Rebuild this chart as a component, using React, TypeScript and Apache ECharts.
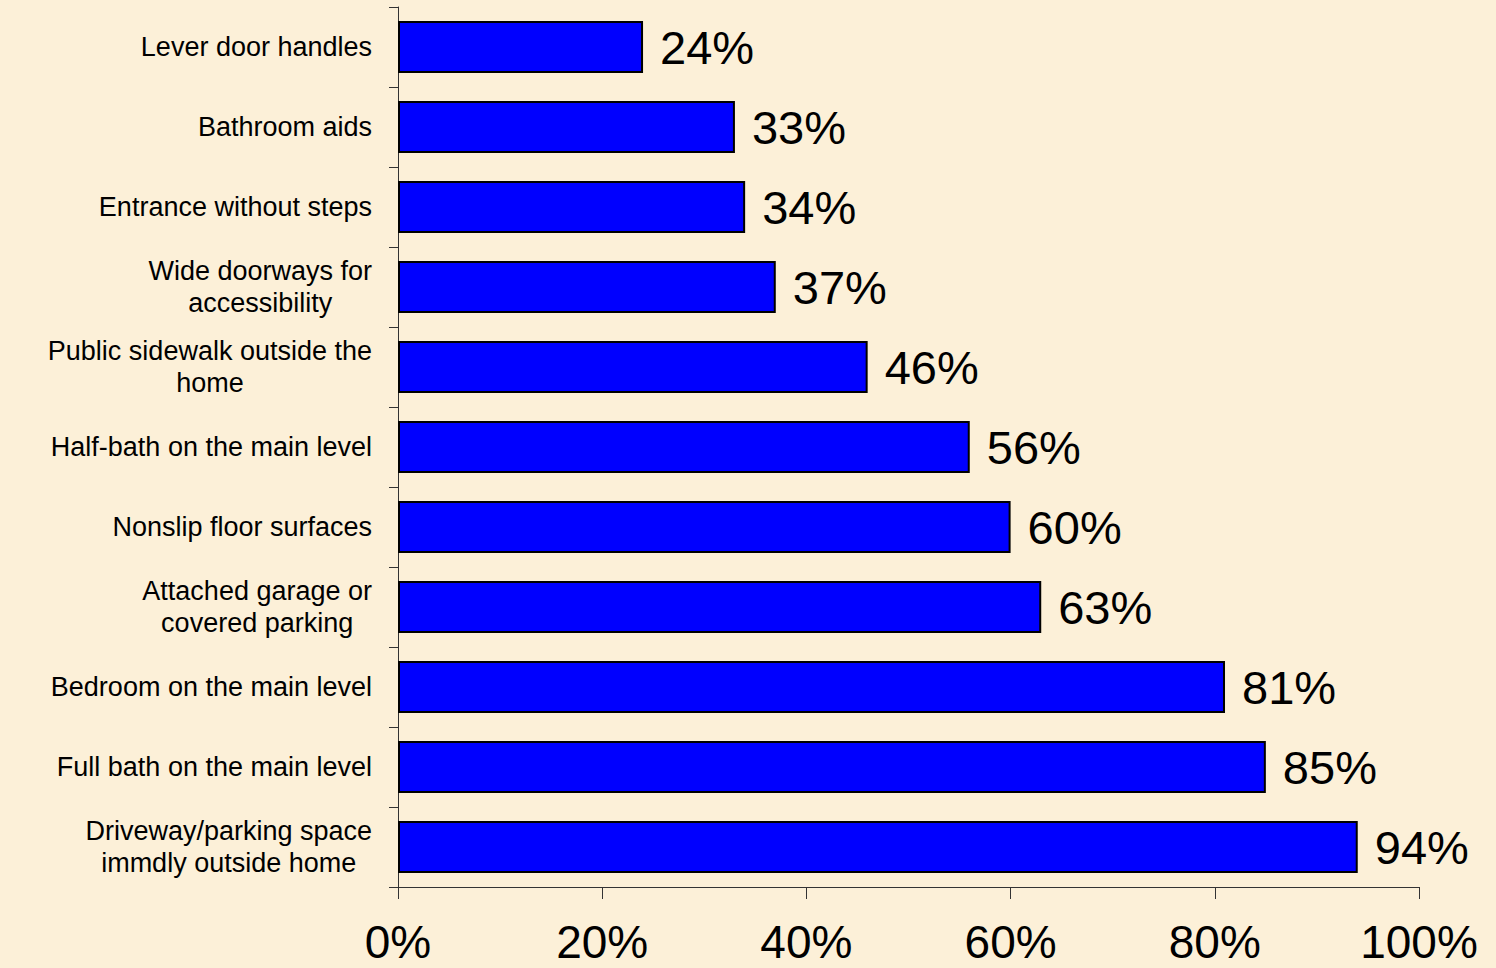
import React, { useEffect, useRef } from "react";
import * as echarts from "echarts";

// Home features, listed top to bottom
const categories = [
  "Lever door handles",
  "Bathroom aids",
  "Entrance without steps",
  "Wide doorways for\naccessibility",
  "Public sidewalk outside the\nhome",
  "Half-bath on the main level",
  "Nonslip floor surfaces",
  "Attached garage or\ncovered parking",
  "Bedroom on the main level",
  "Full bath on the main level",
  "Driveway/parking space\nimmdly outside home",
];

// Share of respondents, percent
const values = [24, 33, 34, 37, 46, 56, 60, 63, 81, 85, 94];

// Horizontal axis range
const axisMin = 0;
const axisMax = 100;
const axisStep = 20;

const FONT = "'Liberation Sans', Arial, sans-serif";

export default function App() {
  const ref = useRef<HTMLDivElement>(null);

  useEffect(() => {
    if (!ref.current) return;
    const chart = echarts.init(ref.current, null, { renderer: "svg" });
    chart.setOption({
      animation: false,
      backgroundColor: "#FCF0D8",
      grid: {
        left: 398,
        right: 77,
        top: 7,
        bottom: 81,
        containLabel: false,
        outerBoundsMode: "none",
      },
      xAxis: {
        type: "value",
        min: axisMin,
        max: axisMax,
        interval: axisStep,
        axisLine: { show: true, lineStyle: { color: "#333", width: 1 } },
        axisTick: { show: true, length: 12, lineStyle: { color: "#333", width: 1 } },
        splitLine: { show: false },
        axisLabel: {
          formatter: "{value}%",
          fontSize: 46,
          lineHeight: 36,
          fontFamily: FONT,
          color: "#000",
          margin: 37,
        },
      },
      yAxis: {
        type: "category",
        inverse: true,
        data: categories,
        axisLine: { show: true, lineStyle: { color: "#333", width: 1 } },
        axisTick: { show: true, length: 9, lineStyle: { color: "#333", width: 1 } },
        axisLabel: {
          align: "right",
          margin: 26,
          fontSize: 27,
          lineHeight: 32,
          fontFamily: FONT,
          color: "#000",
          formatter: (v: string) =>
            v
              .split("\n")
              .map((line) => `{c|${line}}`)
              .join("\n"),
          rich: {
            c: {
              align: "center",
              fontSize: 27,
              lineHeight: 32,
              fontFamily: FONT,
              color: "#000",
            },
          },
        },
      },
      series: [
        {
          type: "bar",
          data: values,
          barCategoryGap: "35%",
          itemStyle: { color: "#0000FF", borderColor: "#000", borderWidth: 2 },
          label: {
            show: true,
            position: "right",
            distance: 17,
            formatter: "{c}%",
            fontSize: 47,
            fontFamily: FONT,
            color: "#000",
          },
        },
      ],
    });
    return () => chart.dispose();
  }, []);

  return (
    <div
      ref={ref}
      style={{ position: "fixed", left: 0, top: 0, width: 1496, height: 968 }}
    />
  );
}
